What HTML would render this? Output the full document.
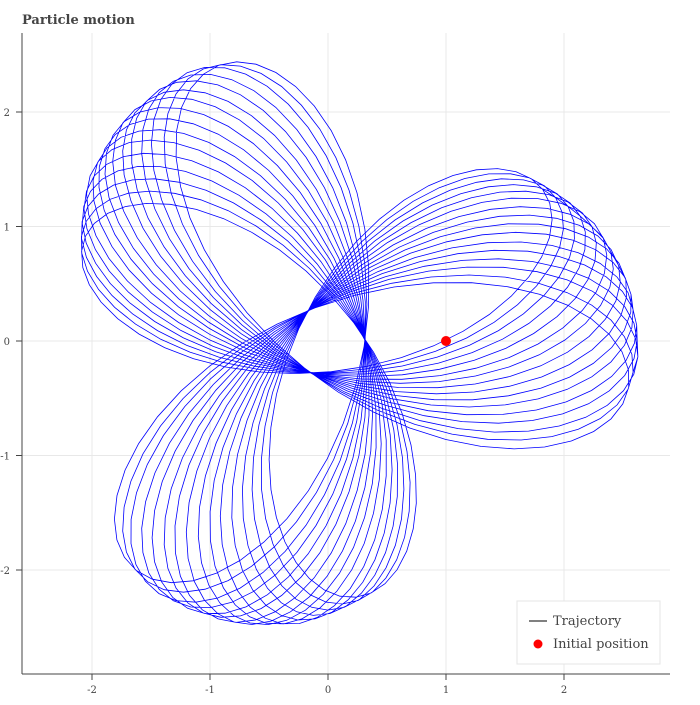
<!DOCTYPE html>
<html><head><meta charset="utf-8"><style>
body{margin:0;background:#fff;font-family:"Liberation Serif","DejaVu Serif",serif}
svg text{font-family:"DejaVu Serif","Liberation Serif",serif}
</style></head><body>
<svg id="chart" width="700" height="700">
<text x="22" y="24" font-size="13" font-weight="bold" fill="#444">Particle motion</text>
<g id="grid"></g><g id="plot"></g><g id="axes"></g>
<g>
<rect x="517" y="601" width="143" height="63" fill="#fff" stroke="#e5e5e5"/>
<line x1="529" y1="621" x2="547" y2="621" stroke="#000" stroke-width="1"/>
<text x="553" y="625" font-size="13" fill="#444">Trajectory</text>
<circle cx="538" cy="644" r="4.5" fill="red"/>
<text x="553" y="648" font-size="13" fill="#444">Initial position</text>
</g>
</svg>
<script>
const xTicks=[-2,-1,0,1,2];
const yTicks=[-2,-1,0,1,2];
// per-turn orientation (deg) and outer radius
const turnAngle=[36,33,30,27,24,21,18,15,12,9,6,3,0,-3,-6,-9];
const turnRadius=[2.25,2.3,2.35,2.4,2.45,2.5,2.52,2.55,2.58,2.6,2.6,2.62,2.62,2.63,2.6,2.58];
const initialPos=[1,0];
const X0=22,X1=670,Y0=33,Y1=674;
function sx(v){return 328+v*118;}
function sy(v){return 341-v*114.5;}
const NS="http://www.w3.org/2000/svg";
function mk(t,a,p){const e=document.createElementNS(NS,t);for(const k in a)e.setAttribute(k,a[k]);p.appendChild(e);return e;}
const grid=document.getElementById('grid'),axes=document.getElementById('axes'),plot=document.getElementById('plot');
xTicks.forEach(v=>{const g=mk('line',{x1:sx(v),x2:sx(v),y1:Y0,y2:Y1,stroke:'#e8e8e8'},grid);


mk('line',{x1:sx(v),x2:sx(v),y1:Y1,y2:Y1+6,stroke:'#444'},axes);
const t=mk('text',{x:sx(v),y:Y1+19,'font-size':10,'text-anchor':'middle',fill:'#444'},axes);t.textContent=v;

});
yTicks.forEach(v=>{const g=mk('line',{x1:X0,x2:X1,y1:sy(v),y2:sy(v),stroke:'#e8e8e8'},grid);


mk('line',{x1:X0-6,x2:X0,y1:sy(v),y2:sy(v),stroke:'#444'},axes);
const t=mk('text',{x:X0-12,y:sy(v)+4,'font-size':10,'text-anchor':'end',fill:'#444'},axes);t.textContent=v;

});
const ax=mk('line',{x1:X0,x2:X0,y1:Y0,y2:Y1,stroke:'#444'},axes);


const bx=mk('line',{x1:X0,x2:X1,y1:Y1,y2:Y1,stroke:'#444'},axes);


let d='';const N=72;
turnAngle.forEach((ang,i)=>{const R=turnRadius[i],A=0.44*R,B=0.56*R,ph=ang*Math.PI/180;
for(let k=0;k<=N;k++){const th=2*Math.PI*k/N;
let x=A*Math.cos(th)+B*Math.cos(-2*th),y=A*Math.sin(th)+B*Math.sin(-2*th);
const X=x*Math.cos(ph)-y*Math.sin(ph),Y=x*Math.sin(ph)+y*Math.cos(ph);
d+=(d?'L':'M')+sx(X).toFixed(1)+' '+sy(Y).toFixed(1);}});
const p=mk('path',{d:d,fill:'none',stroke:'blue','stroke-width':0.8},plot);


const c=mk('circle',{cx:sx(initialPos[0]),cy:sy(initialPos[1]),r:5,fill:'red'},plot);


</script>
</body></html>
